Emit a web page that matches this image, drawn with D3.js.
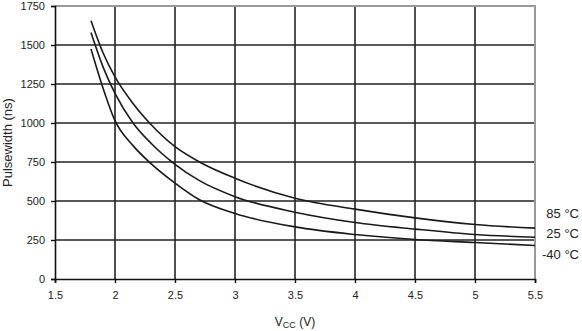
<!DOCTYPE html>
<html>
<head>
<meta charset="utf-8">
<script src="https://cdn.jsdelivr.net/npm/d3@7"></script>
<style>
  html, body { margin: 0; padding: 0; background: #fff; }
  svg { display: block; font-family: "Liberation Sans", Arial, sans-serif; }
</style>
</head>
<body>
<svg id="chart" width="582" height="331"></svg>
<script>
// Supply voltage samples (V)
const vcc = [1.8, 1.9, 2.0, 2.15, 2.3, 2.5, 2.7, 3.0, 3.5, 4.0, 4.5, 5.0, 5.5];
// Pulse width (ns) per temperature
const pw85  = [1655, 1450, 1295, 1125, 990, 848, 752, 646, 518, 448, 392, 349, 326];
const pw25  = [1580, 1360, 1190, 1000, 870, 735, 632, 528, 428, 362, 320, 285, 268];
const pwM40 = [1475, 1225, 1015, 855, 740, 615, 510, 420, 334, 285, 253, 234, 215];
const seriesNames = ["85 °C", "25 °C", "-40 °C"];
const xTicks = [1.5, 2, 2.5, 3, 3.5, 4, 4.5, 5, 5.5];
const yTicks = [0, 250, 500, 750, 1000, 1250, 1500, 1750];

const svg = d3.select("#chart");
const plotL = 55, plotR = 535, plotT = 6, plotB = 279;

const x = d3.scaleLinear().domain([1.5, 5.5]).range([plotL, plotR]);
const y = d3.scaleLinear().domain([0, 1750]).range([plotB, plotT]);

// grid
const grid = svg.append("g");
grid.selectAll("line.v").data(xTicks.slice(1, -1)).join("line")
  .attr("class", "v")
  .attr("x1", d => x(d)).attr("x2", d => x(d))
  .attr("y1", plotT).attr("y2", plotB)
  .attr("stroke", "#222").attr("stroke-width", 1.6);
grid.selectAll("line.h").data(yTicks.slice(1, -1)).join("line")
  .attr("class", "h")
  .attr("x1", plotL).attr("x2", plotR)
  .attr("y1", d => y(d)).attr("y2", d => y(d))
  .attr("stroke", "#222").attr("stroke-width", 1.6);

// top and right frame
svg.append("line").attr("x1", plotL).attr("x2", plotR + 1)
  .attr("y1", y(1750)).attr("y2", y(1750))
  .attr("stroke", "#999").attr("stroke-width", 2);
svg.append("line").attr("x1", x(5.5)).attr("x2", x(5.5))
  .attr("y1", plotT - 1).attr("y2", plotB)
  .attr("stroke", "#999").attr("stroke-width", 2);

// axes
const xAxis = d3.axisBottom(x).tickValues(xTicks).tickSize(4).tickPadding(8)
  .tickFormat(d3.format("~g"));
const yAxis = d3.axisLeft(y).tickValues(yTicks).tickSize(4).tickPadding(6)
  .tickFormat(d3.format("d"));

const gx = svg.append("g").attr("transform", `translate(0,${plotB})`).call(xAxis);
const gy = svg.append("g").attr("transform", `translate(${plotL},0)`).call(yAxis);
[gx, gy].forEach(g => {
  g.select(".domain").attr("stroke", "#111").attr("stroke-width", 1.6);
  g.selectAll(".tick line").attr("stroke", "#111").attr("stroke-width", 1.4);
  g.selectAll(".tick text").attr("fill", "#222")
    .style("font-size", "11px").style("font-family", "Liberation Sans, Arial, sans-serif");
});

// curves
const data = [pw85, pw25, pwM40].map(vals => vcc.map((v, i) => [v, vals[i]]));
const line = d3.line().x(d => x(d[0])).y(d => y(d[1])).curve(d3.curveMonotoneX);
svg.append("g").selectAll("path").data(data).join("path")
  .attr("d", line).attr("fill", "none")
  .attr("stroke", "#1a1a1a").attr("stroke-width", 1.6);

// series labels
const labelY = [213, 233, 254];
svg.append("g").selectAll("text").data(seriesNames).join("text")
  .attr("x", 579).attr("y", (d, i) => labelY[i])
  .attr("dy", "0.35em").attr("text-anchor", "end")
  .attr("fill", "#222").style("font-size", "13px")
  .text(d => d);

// axis titles
svg.append("text")
  .attr("transform", `translate(12,${(plotT + plotB) / 2}) rotate(-90)`)
  .attr("text-anchor", "middle").attr("fill", "#222")
  .style("font-size", "13px").text("Pulsewidth (ns)");

const xt = svg.append("text").attr("x", (plotL + plotR) / 2).attr("y", 326)
  .attr("text-anchor", "middle").attr("fill", "#222").style("font-size", "12px");
xt.append("tspan").text("V");
xt.append("tspan").attr("dy", 2).style("font-size", "9px").text("CC");
xt.append("tspan").attr("dy", -2).text(" (V)");
</script>
</body>
</html>
